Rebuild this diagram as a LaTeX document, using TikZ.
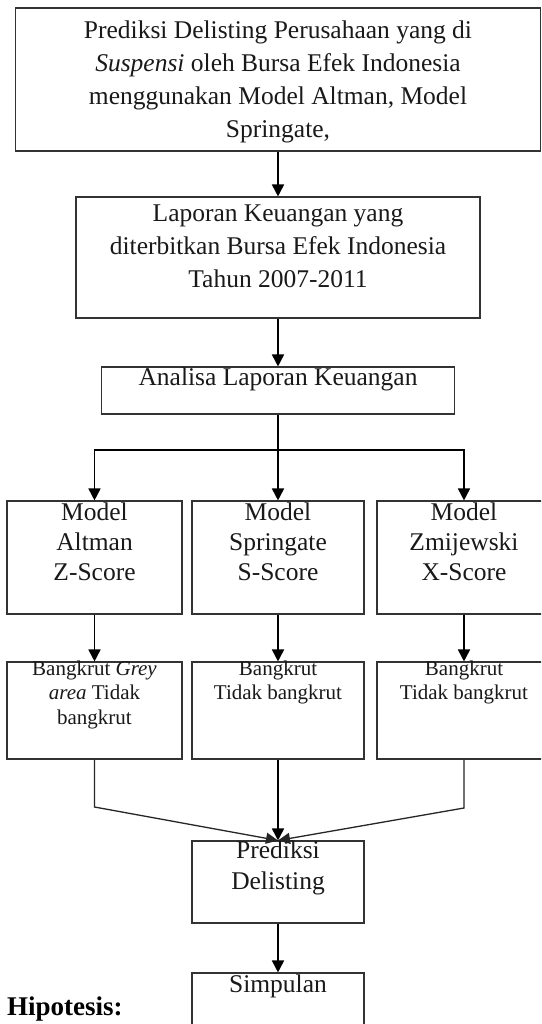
\documentclass[tikz,border=0pt]{standalone}
\usepackage{fontspec}
\setmainfont{Liberation Serif}
\usetikzlibrary{arrows.meta}
\tikzset{
  boxnode/.style={draw=black!80, line width=1.1pt, rectangle, inner sep=0pt},
  txt/.style={anchor=base, align=center, inner sep=0pt, text=black!90},
  bigtxt/.style={txt, font=\fontsize{25.5}{33}\selectfont},
  modtxt/.style={txt, font=\fontsize{25.5}{30}\selectfont},
  restxt/.style={txt, font=\fontsize{21}{24.5}\selectfont},
  arr/.style={draw=black, line width=1.7pt, -{Triangle[length=12pt,width=12pt]}},
  mrg/.style={draw=black!85, line width=1.3pt, -{Triangle[length=12pt,width=11pt]}},
}
\begin{document}
\begin{tikzpicture}[x=1pt,y=-1pt]
\useasboundingbox (0,0) rectangle (541,1024);
\fill[white] (0,0) rectangle (541,1024);
\clip (0,0) rectangle (541,1024);
% boxes
\node[boxnode, minimum width=525pt, minimum height=143pt] (b1) at (278,79.5) {};
\node[boxnode, minimum width=404pt, minimum height=121pt] (b2) at (278,257.5) {};
\node[boxnode, minimum width=353pt, minimum height=47pt] (b3) at (278,390.5) {};
\node[boxnode, minimum width=175pt, minimum height=113pt] (m1) at (94.5,557.5) {};
\node[boxnode, minimum width=172pt, minimum height=113pt] (m2) at (278,557.5) {};
\node[boxnode, minimum width=174pt, minimum height=113pt] (m3) at (464,557.5) {};
\node[boxnode, minimum width=175pt, minimum height=97pt] (r1) at (94.5,710.5) {};
\node[boxnode, minimum width=172pt, minimum height=97pt] (r2) at (278,710.5) {};
\node[boxnode, minimum width=174pt, minimum height=97pt] (r3) at (464,710.5) {};
\node[boxnode, minimum width=172pt, minimum height=82pt] (p) at (278,882) {};
\node[boxnode, minimum width=172pt, minimum height=90pt] (s) at (278,1018) {};
% texts (base anchor = baseline of last line)
\node[bigtxt] (t1) at (278,138) {Prediksi Delisting Perusahaan yang di\\\textit{Suspensi} oleh Bursa Efek Indonesia\\menggunakan Model Altman, Model\\Springate,};
\node[bigtxt] (t2) at (278,287) {Laporan Keuangan yang\\diterbitkan Bursa Efek Indonesia\\Tahun 2007-2011};
\node[bigtxt] (t3) at (278,385) {Analisa Laporan Keuangan};
\node[modtxt] (tm1) at (94.5,580) {Model\\Altman\\Z-Score};
\node[modtxt] (tm2) at (278,580) {Model\\Springate\\S-Score};
\node[modtxt] (tm3) at (464,580) {Model\\Zmijewski\\X-Score};
\node[restxt] (tr1) at (94.5,724) {Bangkrut \textit{Grey}\\\textit{area} Tidak\\bangkrut};
\node[restxt] (tr2) at (278,699.5) {Bangkrut\\Tidak bangkrut};
\node[restxt] (tr3) at (464,699.5) {Bangkrut\\Tidak bangkrut};
\node[modtxt, font=\fontsize{25.5}{31}\selectfont] (tp) at (278,889) {Prediksi\\Delisting};
\node[modtxt] (ts) at (278,992) {Simpulan};
\node[anchor=base west, inner sep=0pt, font=\fontsize{27}{30}\selectfont\bfseries] (hip) at (7,1015) {Hipotesis:};
% connectors
\draw[arr] (b1.south) -- (b2.north);
\draw[arr] (b2.south) -- (b3.north);
\coordinate (br) at (278,450);
\draw[arr] (b3.south) -- (m2.north);
\draw[arr, shorten <=-0.85pt] (br) -| (m1.north);
\draw[arr, shorten <=-0.85pt] (br) -| (m3.north);
\draw[arr] (m1.south) -- (r1.north);
\draw[arr] (m2.south) -- (r2.north);
\draw[arr] (m3.south) -- (r3.north);
\coordinate (c1) at (94.5,807);
\coordinate (c3) at (464,808);
\draw[mrg] (r1.south) -- (c1) -- (p.north);
\draw[mrg] (r3.south) -- (c3) -- (p.north);
\draw[arr] (r2.south) -- (p.north);
\draw[arr] (p.south) -- (s.north);
\end{tikzpicture}
\end{document}
